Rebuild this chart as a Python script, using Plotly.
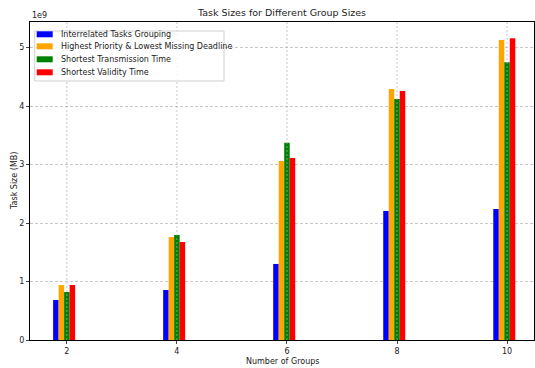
import plotly.graph_objects as go

groups = [2, 4, 6, 8, 10]
interrelated = [0.684e9, 0.855e9, 1.30e9, 2.205e9, 2.24e9]
priority_deadline = [0.94e9, 1.76e9, 3.06e9, 4.29e9, 5.13e9]
transmission = [0.82e9, 1.795e9, 3.37e9, 4.12e9, 4.75e9]
validity = [0.94e9, 1.675e9, 3.11e9, 4.256e9, 5.16e9]

series = [
    ("Interrelated Tasks Grouping", interrelated, "#0000ff", -0.25),
    ("Highest Priority & Lowest Missing Deadline", priority_deadline, "#ffa500", -0.15),
    ("Shortest Transmission Time", transmission, "#008000", -0.05),
    ("Shortest Validity Time", validity, "#ff0000", 0.05),
]
ytick_vals = [0, 1e9, 2e9, 3e9, 4e9, 5e9]
ytick_text = ["0", "1", "2", "3", "4", "5"]

W, H = 535, 368
L, R, T, B = 30, 534, 22, 340


def px(x):
    return (x - L) / (R - L)


def py(y):
    return (B - y) / (B - T)


fig = go.Figure()
for name, vals, color, off in series:
    fig.add_trace(go.Bar(x=groups, y=vals, name=name, marker_color=color,
                         marker_line_width=0, width=0.1, offset=off, showlegend=False))

grid_col = "rgba(176,176,176,0.7)"
for g in groups:
    fig.add_shape(type="line", xref="x", yref="paper", x0=g, x1=g, y0=0, y1=1,
                  line=dict(color=grid_col, width=1, dash="2px,2px"), layer="above")

# legend drawn manually
fig.add_shape(type="rect", xref="paper", yref="paper", x0=px(34.7), x1=px(224),
              y0=py(81), y1=py(31), line=dict(color="#d0d0d0", width=1),
              fillcolor="rgba(255,255,255,0.85)", layer="above")
row_y = [34.3, 46.3, 59.3, 72.3]
for (name, vals, color, off), ry in zip(series, row_y):
    fig.add_shape(type="rect", xref="paper", yref="paper", x0=px(36.7), x1=px(52.7),
                  y0=py(ry + 3), y1=py(ry - 3), line=dict(width=0), fillcolor=color,
                  layer="above")
    fig.add_annotation(text=name, xref="paper", yref="paper", x=px(59), y=py(ry),
                       xanchor="left", yanchor="middle", showarrow=False,
                       font=dict(size=8, color="#222"))

fig.update_layout(
    width=W, height=H,
    margin=dict(l=L, r=W - R, t=T, b=H - B, autoexpand=False),
    paper_bgcolor="white", plot_bgcolor="white",
    barmode="overlay",
    font=dict(family="DejaVu Sans", size=8, color="#222"),
    title=dict(text="Task Sizes for Different Group Sizes", x=0.5, xanchor="center",
               xref="paper", y=1 - 13 / H, yanchor="middle", font=dict(size=9.5)),
    showlegend=False,
)
fig.update_xaxes(range=[1.33, 10.49], tickvals=groups, ticktext=[str(g) for g in groups],
                 showgrid=False, showline=True, linecolor="black", linewidth=1, mirror=True,
                 ticks="outside", ticklen=3, tickcolor="#444", zeroline=False, automargin=False)
fig.update_yaxes(range=[0, 5.436e9], tickvals=ytick_vals, ticktext=ytick_text,
                 showgrid=True, gridcolor=grid_col, griddash="3px,2px", gridwidth=1,
                 showline=True, linecolor="black", linewidth=1, mirror=True,
                 ticks="outside", ticklen=3, tickcolor="#444", zeroline=False, automargin=False)
fig.add_annotation(text="1e9", xref="paper", yref="paper", x=0, y=1, xanchor="left",
                   yanchor="bottom", showarrow=False, font=dict(size=8), yshift=0)
fig.add_annotation(text="Number of Groups", xref="paper", yref="paper", x=px(282), y=py(361),
                   xanchor="center", yanchor="middle", showarrow=False, font=dict(size=8))
fig.add_annotation(text="Task Size (MB)", xref="paper", yref="paper", x=px(14), y=py(181),
                   xanchor="center", yanchor="middle", textangle=-90, showarrow=False,
                   font=dict(size=8))

fig.write_html("out.html", config={"displayModeBar": False},
               post_script="document.body.style.margin='0';document.body.style.overflow='hidden';")
